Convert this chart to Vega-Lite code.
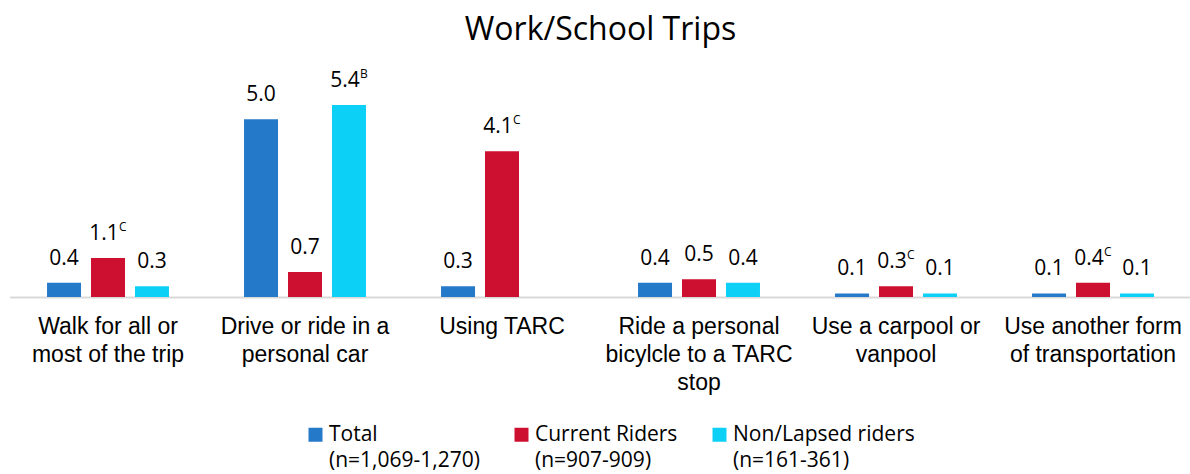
{
  "$schema": "https://vega.github.io/schema/vega-lite/v6.json",
  "width": 1182,
  "height": 231,
  "autosize": {"type": "none"},
  "padding": {"left": 9.5, "top": 66, "right": 0, "bottom": 177},
  "background": "white",
  "title": {
    "text": "Work/School Trips",
    "font": "Open Sans",
    "fontSize": 32,
    "fontWeight": "normal",
    "color": "#000000",
    "anchor": "middle",
    "baseline": "alphabetic",
    "offset": -6
  },
  "data": {
    "values": [
      {"category": "Walk for all or|most of the trip", "group": "Total|(n=1,069-1,270)", "value": 0.4, "sup": ""},
      {"category": "Walk for all or|most of the trip", "group": "Current Riders|(n=907-909)", "value": 1.1, "sup": "C"},
      {"category": "Walk for all or|most of the trip", "group": "Non/Lapsed riders|(n=161-361)", "value": 0.3, "sup": ""},
      {"category": "Drive or ride in a|personal car", "group": "Total|(n=1,069-1,270)", "value": 5.0, "sup": ""},
      {"category": "Drive or ride in a|personal car", "group": "Current Riders|(n=907-909)", "value": 0.7, "sup": ""},
      {"category": "Drive or ride in a|personal car", "group": "Non/Lapsed riders|(n=161-361)", "value": 5.4, "sup": "B"},
      {"category": "Using TARC", "group": "Total|(n=1,069-1,270)", "value": 0.3, "sup": ""},
      {"category": "Using TARC", "group": "Current Riders|(n=907-909)", "value": 4.1, "sup": "C"},
      {"category": "Ride a personal|bicylcle to a TARC|stop", "group": "Total|(n=1,069-1,270)", "value": 0.4, "sup": ""},
      {"category": "Ride a personal|bicylcle to a TARC|stop", "group": "Current Riders|(n=907-909)", "value": 0.5, "sup": ""},
      {"category": "Ride a personal|bicylcle to a TARC|stop", "group": "Non/Lapsed riders|(n=161-361)", "value": 0.4, "sup": ""},
      {"category": "Use a carpool or|vanpool", "group": "Total|(n=1,069-1,270)", "value": 0.1, "sup": ""},
      {"category": "Use a carpool or|vanpool", "group": "Current Riders|(n=907-909)", "value": 0.3, "sup": "C"},
      {"category": "Use a carpool or|vanpool", "group": "Non/Lapsed riders|(n=161-361)", "value": 0.1, "sup": ""},
      {"category": "Use another form|of transportation", "group": "Total|(n=1,069-1,270)", "value": 0.1, "sup": ""},
      {"category": "Use another form|of transportation", "group": "Current Riders|(n=907-909)", "value": 0.4, "sup": "C"},
      {"category": "Use another form|of transportation", "group": "Non/Lapsed riders|(n=161-361)", "value": 0.1, "sup": ""}
    ]
  },
  "encoding": {
    "x": {
      "field": "category",
      "type": "nominal",
      "sort": null,
      "scale": {"paddingInner": 0.381, "paddingOuter": 0.1905},
      "axis": {
        "title": null,
        "labelAngle": 0,
        "labelExpr": "split(datum.label, '|')",
        "labelFont": "Liberation Sans",
        "labelFontSize": 23,
        "labelColor": "#000000",
        "labelLineHeight": 28,
        "labelPadding": 18,
        "labelLimit": 300,
        "ticks": false,
        "tickSize": 0,
        "domainColor": "#D9D9D9",
        "domainWidth": 2,
        "grid": false
      }
    },
    "xOffset": {
      "field": "group",
      "type": "nominal",
      "sort": ["Total|(n=1,069-1,270)", "Current Riders|(n=907-909)", "Non/Lapsed riders|(n=161-361)"],
      "scale": {"paddingInner": 0.227, "paddingOuter": 0}
    },
    "y": {
      "field": "value",
      "type": "quantitative",
      "scale": {"domain": [0, 6.5], "nice": false},
      "axis": null
    }
  },
  "layer": [
    {
      "mark": {"type": "bar"},
      "encoding": {
        "color": {
          "field": "group",
          "type": "nominal",
          "sort": ["Total|(n=1,069-1,270)", "Current Riders|(n=907-909)", "Non/Lapsed riders|(n=161-361)"],
          "scale": {
            "domain": ["Total|(n=1,069-1,270)", "Current Riders|(n=907-909)", "Non/Lapsed riders|(n=161-361)"],
            "range": ["#2479C9", "#CE1030", "#0CD0F5"]
          },
          "legend": {
            "title": null,
            "orient": "none",
            "legendX": 295.5,
            "legendY": 358,
            "direction": "horizontal",
            "columns": 3,
            "padding": 0,
            "columnPadding": 31,
            "symbolType": "square",
            "symbolSize": 196,
            "symbolStrokeWidth": 0,
            "labelOffset": 3,
            "labelExpr": "split(datum.label, '|')",
            "labelFont": "Open Sans",
            "labelFontSize": 21,
            "labelColor": "#000000",
            "labelLimit": 300
          }
        }
      }
    },
    {
      "transform": [{"filter": "datum.sup == ''"}],
      "mark": {"type": "text", "font": "Open Sans", "fontSize": 21, "color": "#000000", "baseline": "alphabetic", "dy": -18},
      "encoding": {"text": {"field": "value", "type": "quantitative", "format": ".1f"}}
    },
    {
      "transform": [{"filter": "datum.sup != ''"}],
      "mark": {"type": "text", "font": "Open Sans", "fontSize": 21, "color": "#000000", "baseline": "alphabetic", "dy": -18, "dx": -4},
      "encoding": {"text": {"field": "value", "type": "quantitative", "format": ".1f"}}
    },
    {
      "transform": [{"filter": "datum.sup != ''"}],
      "mark": {"type": "text", "font": "Open Sans", "fontSize": 12, "color": "#000000", "baseline": "alphabetic", "align": "left", "dy": -27, "dx": 11},
      "encoding": {"text": {"field": "sup", "type": "nominal"}}
    }
  ],
  "config": {
    "view": {"stroke": null},
    "style": {"guide-label": {"lineHeight": 26}}
  }
}
